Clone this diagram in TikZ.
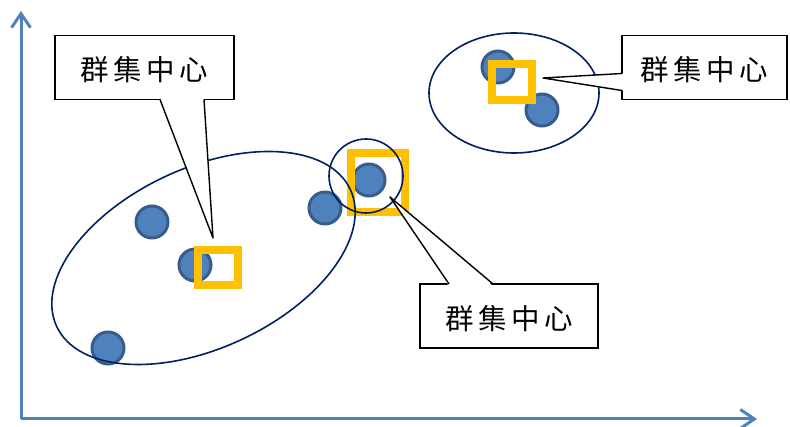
\documentclass[tikz,border=0pt]{standalone}
\usepackage{fontspec}
\newfontfamily\cjk[LetterSpace=16]{Noto Sans CJK TC}
\usetikzlibrary{shapes.geometric,arrows.meta,calc}
\definecolor{axisblue}{RGB}{79,129,189}
\definecolor{ptborder}{RGB}{56,93,138}
\definecolor{gold}{RGB}{255,192,0}
\definecolor{navy}{RGB}{0,32,96}

\begin{document}
\begin{tikzpicture}[x=1pt,y=-1pt,
	axis/.style={draw=axisblue,line width=3pt,-{Straight Barb[length=14pt,width=19pt]}},
	pt/.style={circle,fill=axisblue,draw=ptborder,line width=3pt,minimum size=32pt,inner sep=0pt},
	ctr/.style={draw=gold,line width=8pt,inner sep=0pt},
	grp/.style={draw=navy,line width=1.6pt,inner sep=0pt},
	tag/.style={draw,fill=white,line width=1.4pt,outer sep=0pt,inner sep=0pt,minimum height=64pt,text height=27pt,text depth=0pt,font=\cjk\fontsize{28.5}{32}\selectfont},
	lead/.style={line width=1.4pt,line join=round}
	]
	\useasboundingbox (0,0) rectangle (790,427);
	
	\coordinate (o) at (21,419);
	\coordinate (xend) at (757,419);
	\coordinate (yend) at (21,11);
	\draw[axis] (o)--(xend);
	\draw[axis] (o)--(yend);
	
	\node[pt] (p1) at (152,222) {};
	\node[pt] (p2) at (195,265) {};
	\node[pt] (p3) at (108,348) {};
	\node[pt] (p4) at (325,208) {};
	\node[pt] (p5) at (369,180) {};
	\node[pt] (p6) at (498,67) {};
	\node[pt] (p7) at (542,110) {};
	
	\node[ctr,minimum width=40pt,minimum height=35pt] (c1) at (218,267.5) {};
	\node[ctr,minimum width=54pt,minimum height=59pt] (c2) at (378,182.5) {};
	\node[ctr,minimum width=40pt,minimum height=36pt] (c3) at (512,82) {};
	
	\node[grp,ellipse,minimum width=324pt,minimum height=180pt,rotate=25] (g1) at (203.5,258) {};
	\node[grp,circle,minimum size=74pt] (g2) at (366,176) {};
	\node[grp,ellipse,minimum width=170pt,minimum height=120pt] (g3) at (514,93) {};
	
	\coordinate (tip1) at (213,238);
	\coordinate (tip2) at (543,78);
	\coordinate (tip3) at (390,197);
	
	\node[tag,minimum width=179pt] (cb1) at (144.5,67.5) {群集中心};
	\node[tag,minimum width=165pt] (cb2) at (704.5,67.5) {群集中心};
	\node[tag,minimum width=178pt] (cb3) at (509,316) {群集中心};
	
	% pointers of the callouts
	\fill[white] ([xshift=105pt,yshift=2pt]cb1.south west)--(tip1)--([xshift=149pt,yshift=2pt]cb1.south west)--cycle;
	\draw[lead] ([xshift=105pt]cb1.south west)--(tip1)--([xshift=149pt]cb1.south west);
	\fill[white] ([yshift=-38pt,xshift=2pt]cb2.north west)--(tip2)--([yshift=-55pt,xshift=2pt]cb2.north west)--cycle;
	\draw[lead] ([yshift=-38pt]cb2.north west)--(tip2)--([yshift=-55pt]cb2.north west);
	\fill[white] ([xshift=29pt,yshift=-2pt]cb3.north west)--(tip3)--([xshift=73pt,yshift=-2pt]cb3.north west)--cycle;
	\draw[lead] ([xshift=29pt]cb3.north west)--(tip3)--([xshift=73pt]cb3.north west);
\end{tikzpicture}
\end{document}
